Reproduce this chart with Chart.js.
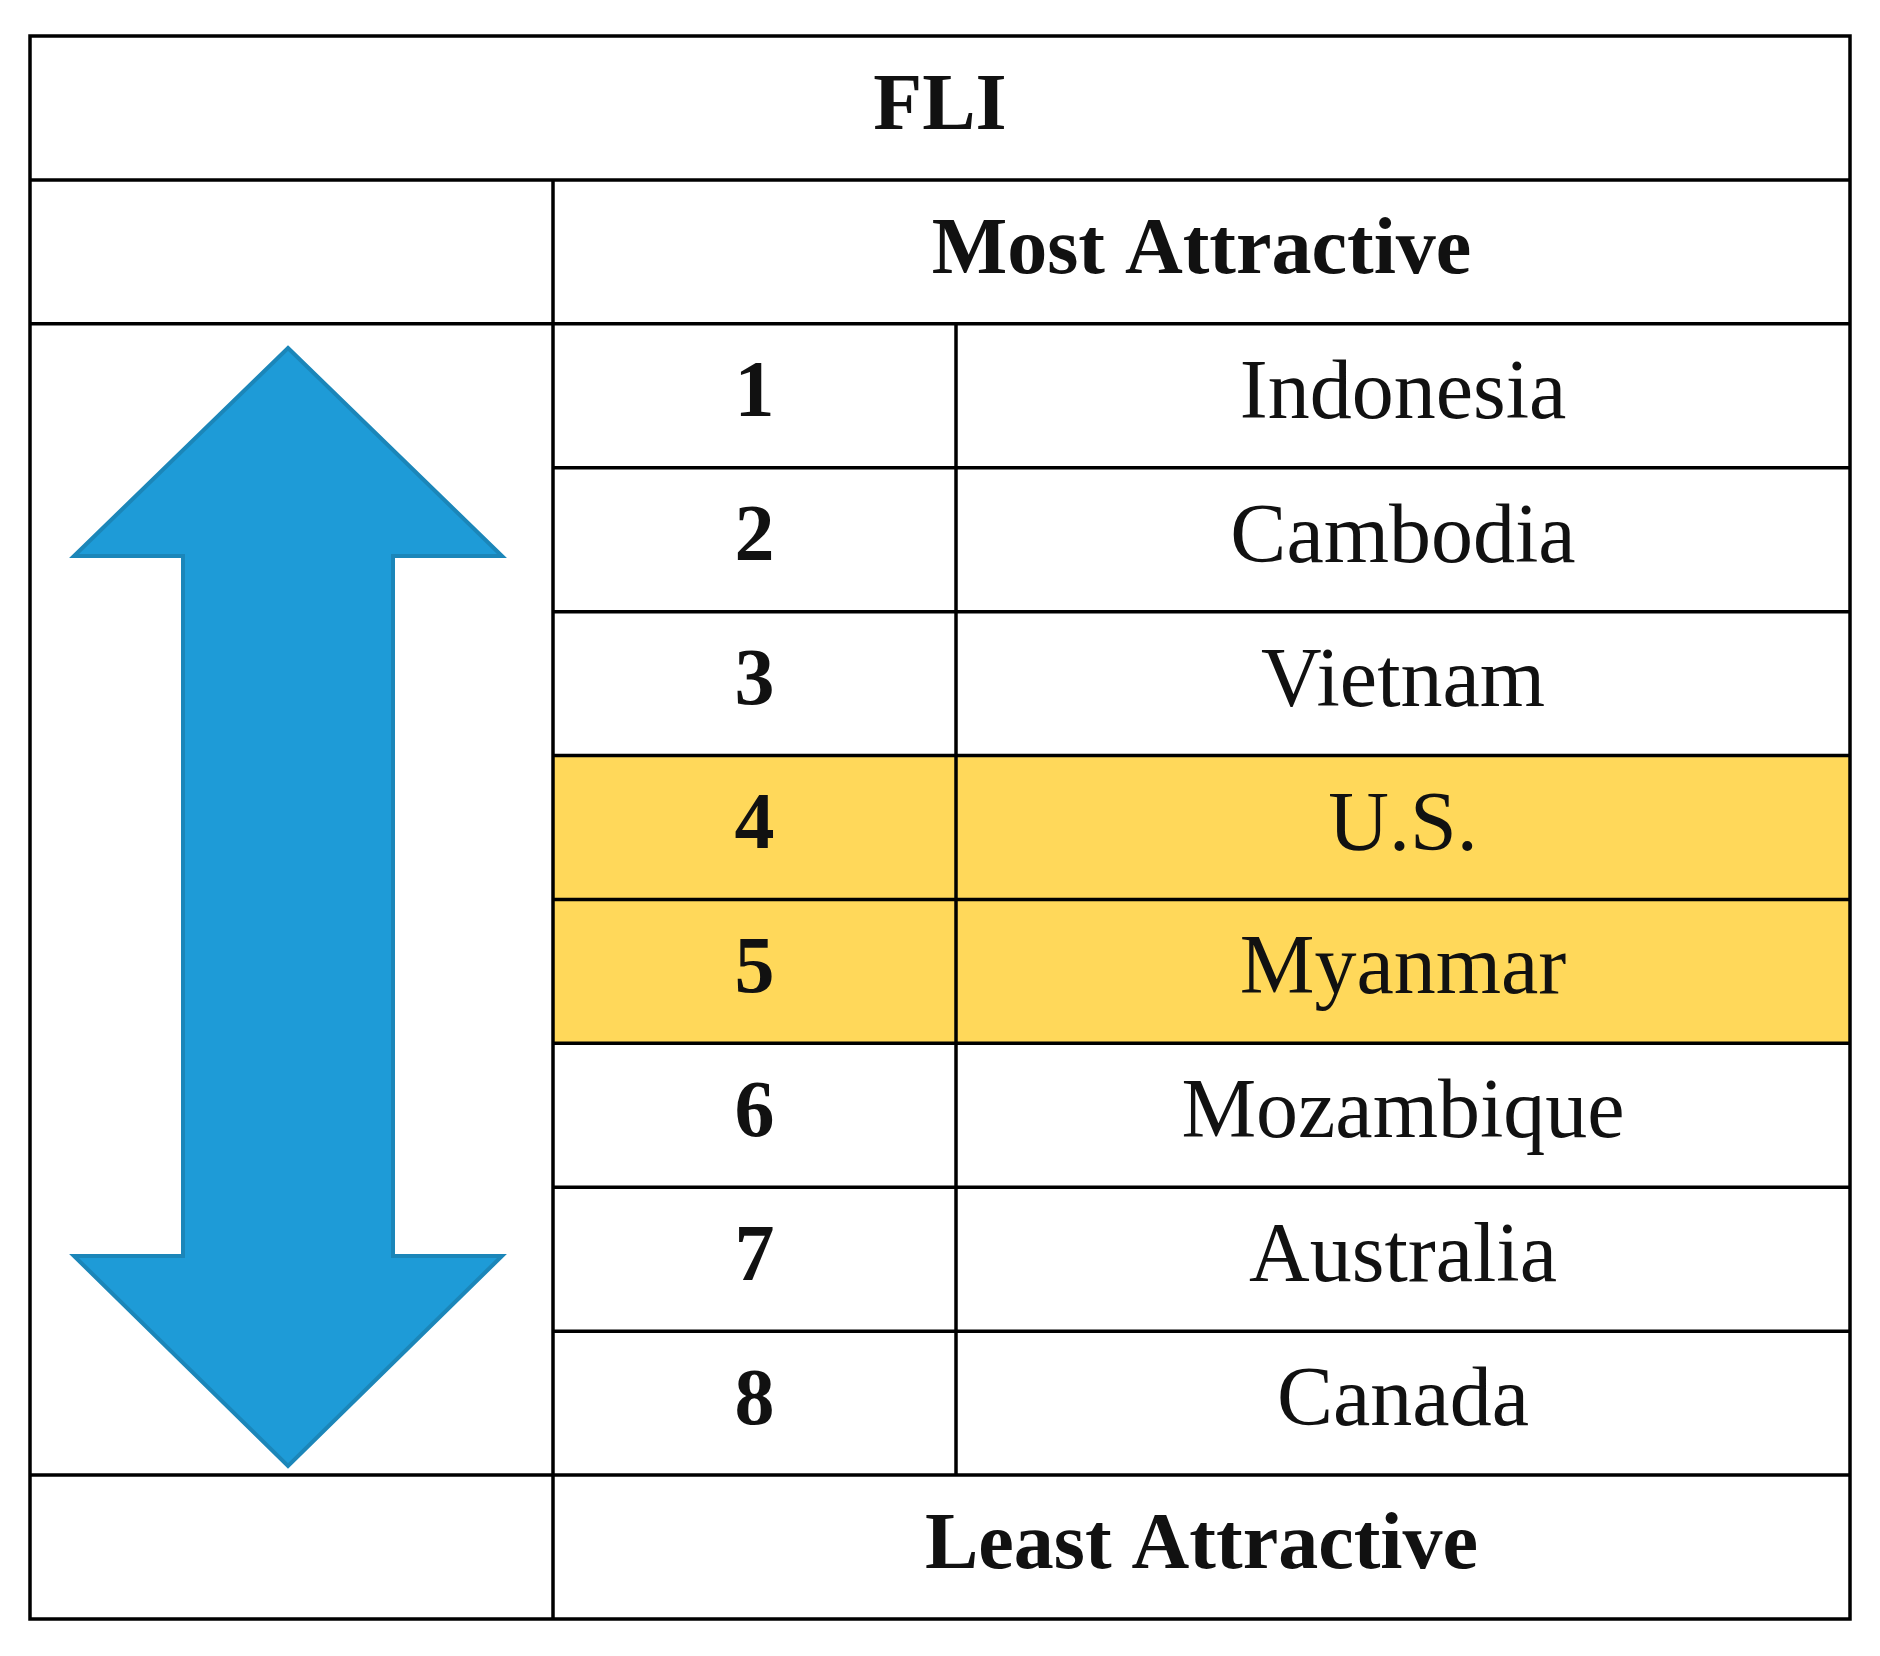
<!DOCTYPE html>
<html><head><meta charset="utf-8">
<script src="https://cdn.jsdelivr.net/npm/chart.js@4/dist/chart.umd.min.js"></script>
<style>html,body{margin:0;padding:0;background:#fff}</style>
</head><body>
<canvas id="c" width="1880" height="1656"></canvas>
<script>
const title = "FLI";
const topLabel = "Most Attractive";
const bottomLabel = "Least Attractive";
const ranks = [1,2,3,4,5,6,7,8];
const countries = ["Indonesia","Cambodia","Vietnam","U.S.","Myanmar","Mozambique","Australia","Canada"];
const highlighted = [false,false,false,true,true,false,false,false];

// table geometry in scale units (pixels of the 1880x1656 frame)
const L=30, R=1850, T=36, B=1619, C1=553, C2=956;
const rowH=(B-T)/11;

const tablePlugin = {
  id:'table',
  afterDraw(chart){
    const ctx=chart.ctx, xs=chart.scales.x, ys=chart.scales.y;
    const X=v=>xs.getPixelForValue(v), Y=v=>ys.getPixelForValue(v);
    const rowY=i=>T+i*rowH;
    ctx.save();
    // highlight
    ctx.fillStyle='#FFD85A';
    highlighted.forEach((h,i)=>{ if(h){ ctx.fillRect(X(C1),Y(rowY(i+2)),X(R)-X(C1),Y(rowY(i+3))-Y(rowY(i+2))); }});
    // arrow
    const cx=288, hw=214, sw=105, tTop=348, tBase=556, bBase=1256, bTip=1466;
    ctx.beginPath();
    ctx.moveTo(X(cx),Y(tTop));
    ctx.lineTo(X(cx+hw),Y(tBase));ctx.lineTo(X(cx+sw),Y(tBase));
    ctx.lineTo(X(cx+sw),Y(bBase));ctx.lineTo(X(cx+hw),Y(bBase));
    ctx.lineTo(X(cx),Y(bTip));
    ctx.lineTo(X(cx-hw),Y(bBase));ctx.lineTo(X(cx-sw),Y(bBase));
    ctx.lineTo(X(cx-sw),Y(tBase));ctx.lineTo(X(cx-hw),Y(tBase));
    ctx.closePath();
    ctx.fillStyle='#1E9BD7';ctx.fill();
    ctx.strokeStyle='#1B86B9';ctx.lineWidth=4;ctx.stroke();
    // grid lines
    ctx.strokeStyle='#000';ctx.lineWidth=3.5;
    const line=(x1,y1,x2,y2)=>{ctx.beginPath();ctx.moveTo(X(x1),Y(y1));ctx.lineTo(X(x2),Y(y2));ctx.stroke();};
    ctx.strokeRect(X(L),Y(T),X(R)-X(L),Y(B)-Y(T));
    line(L,rowY(1),R,rowY(1));
    line(L,rowY(2),R,rowY(2));
    for(let i=3;i<=9;i++) line(C1,rowY(i),R,rowY(i));
    line(L,rowY(10),R,rowY(10));
    line(C1,rowY(1),C1,B);
    line(C2,rowY(2),C2,rowY(10));
    // text
    ctx.fillStyle='#111';ctx.textBaseline='middle';ctx.textAlign='center';
    ctx.font='bold 80px "Liberation Serif", "DejaVu Serif", serif';
    ctx.fillText(title,X((L+R)/2),Y(rowY(0.5)));
    ctx.fillText(topLabel,X((C1+R)/2),Y(rowY(1.5)));
    ctx.fillText(bottomLabel,X((C1+R)/2),Y(rowY(10.5)));
    ranks.forEach((r,i)=>{
      ctx.font='bold 80px "Liberation Serif", "DejaVu Serif", serif';
      ctx.fillText(String(r),X((C1+C2)/2),Y(rowY(i+2.5)));
      ctx.font='84px "Liberation Serif", "DejaVu Serif", serif';
      ctx.fillText(countries[i],X((C2+R)/2),Y(rowY(i+2.5)));
    });
    ctx.restore();
  }
};

new Chart(document.getElementById('c'),{
  type:'scatter',
  data:{datasets:[{data:ranks.map((r,i)=>({x:(C2+R)/2,y:T+(i+2.5)*rowH})),pointRadius:0}]},
  options:{
    responsive:false,animation:false,devicePixelRatio:1,
    layout:{padding:0},
    plugins:{legend:{display:false},tooltip:{enabled:false}},
    scales:{
      x:{type:'linear',min:0,max:1880,display:false},
      y:{type:'linear',min:0,max:1656,reverse:true,display:false}
    }
  },
  plugins:[tablePlugin]
});
</script>
</body></html>
